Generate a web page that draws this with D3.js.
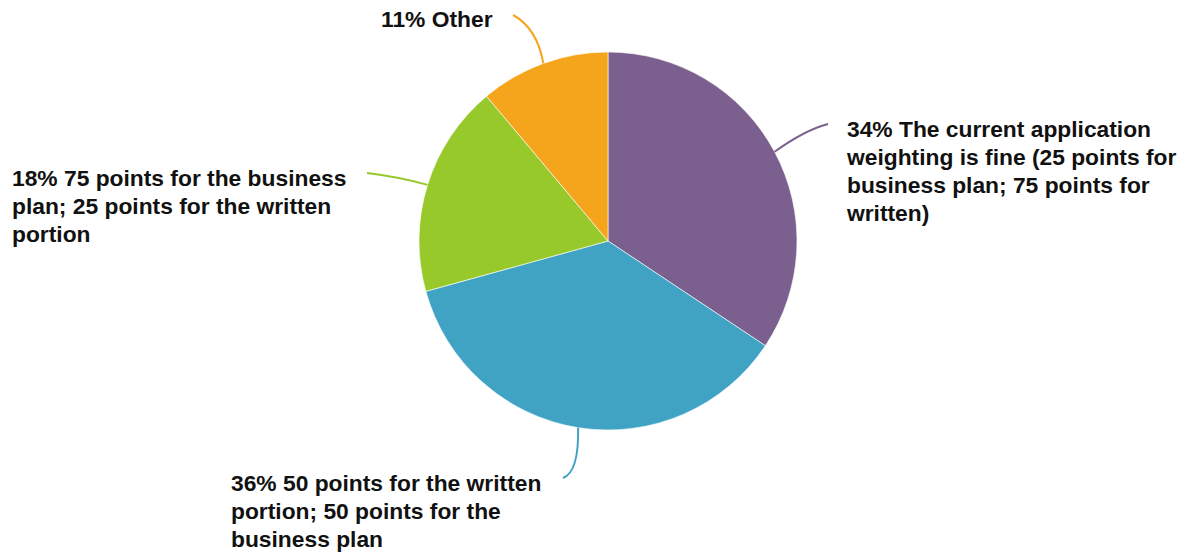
<!DOCTYPE html>
<html>
<head>
<meta charset="utf-8">
<script src="https://cdn.jsdelivr.net/npm/d3@7/dist/d3.min.js"></script>
<style>
  html, body { margin: 0; padding: 0; background: #fff; }
  svg { display: block; }
  .lbl { font-family: "Liberation Sans", Arial, sans-serif; font-weight: bold; font-size: 22.8px; fill: #111; }
</style>
</head>
<body>
<svg id="chart" width="1189" height="554"></svg>
<script>
// Survey responses: preferred application weighting
const categories = [
  "The current application weighting is fine (25 points for business plan; 75 points for written)",
  "50 points for the written portion; 50 points for the business plan",
  "75 points for the business plan; 25 points for the written portion",
  "Other"
];
const values = [34, 36, 18, 11];
const colors = ["#7b5f8e", "#40a3c3", "#97c92a", "#f5a51b"];

// label lines as wrapped in the chart
const labelLines = [
  ["34% The current application", "weighting is fine (25 points for", "business plan; 75 points for", "written)"],
  ["36% 50 points for the written", "portion; 50 points for the", "business plan"],
  ["18% 75 points for the business", "plan; 25 points for the written", "portion"],
  ["11% Other"]
];

const svg = d3.select("#chart");
const cx = 608, cy = 241, R = 189;

// label placement: leader control + end point, text origin (first baseline)
const layout = [
  { ctrl: [805, 130], end: [828, 124], text: [847, 137] },
  { ctrl: [579, 472], end: [563, 478], text: [231, 491] },
  { ctrl: [400, 177], end: [367, 173], text: [12, 186] },
  { ctrl: [537, 28],  end: [513, 15],  text: [381, 27] }
];

const pie = d3.pie().sort(null).value(d => d)
  .startAngle(0).endAngle(2 * Math.PI);
const arcs = pie(values);
const arc = d3.arc().innerRadius(0).outerRadius(R);

const g = svg.append("g").attr("transform", `translate(${cx},${cy})`);

g.selectAll("path.slice")
  .data(arcs)
  .enter().append("path")
  .attr("class", "slice")
  .attr("d", arc)
  .attr("fill", (d, i) => colors[i])
  .attr("stroke", "#ffffff")
  .attr("stroke-width", 0.6);

// leader lines from each slice's outer mid-point
arcs.forEach((d, i) => {
  const a = (d.startAngle + d.endAngle) / 2;
  const sx = cx + Math.sin(a) * R, sy = cy - Math.cos(a) * R;
  const L = layout[i];
  const p = d3.path();
  p.moveTo(sx, sy);
  p.quadraticCurveTo(L.ctrl[0], L.ctrl[1], L.end[0], L.end[1]);
  svg.append("path")
    .attr("d", p.toString())
    .attr("fill", "none")
    .attr("stroke", colors[i])
    .attr("stroke-width", 2);
});

// labels
labelLines.forEach((lines, i) => {
  const L = layout[i];
  const t = svg.append("text")
    .attr("class", "lbl")
    .attr("x", L.text[0])
    .attr("y", L.text[1]);
  lines.forEach((ln, j) => {
    t.append("tspan")
      .attr("x", L.text[0])
      .attr("dy", j === 0 ? 0 : 28)
      .text(ln);
  });
});
</script>
</body>
</html>
